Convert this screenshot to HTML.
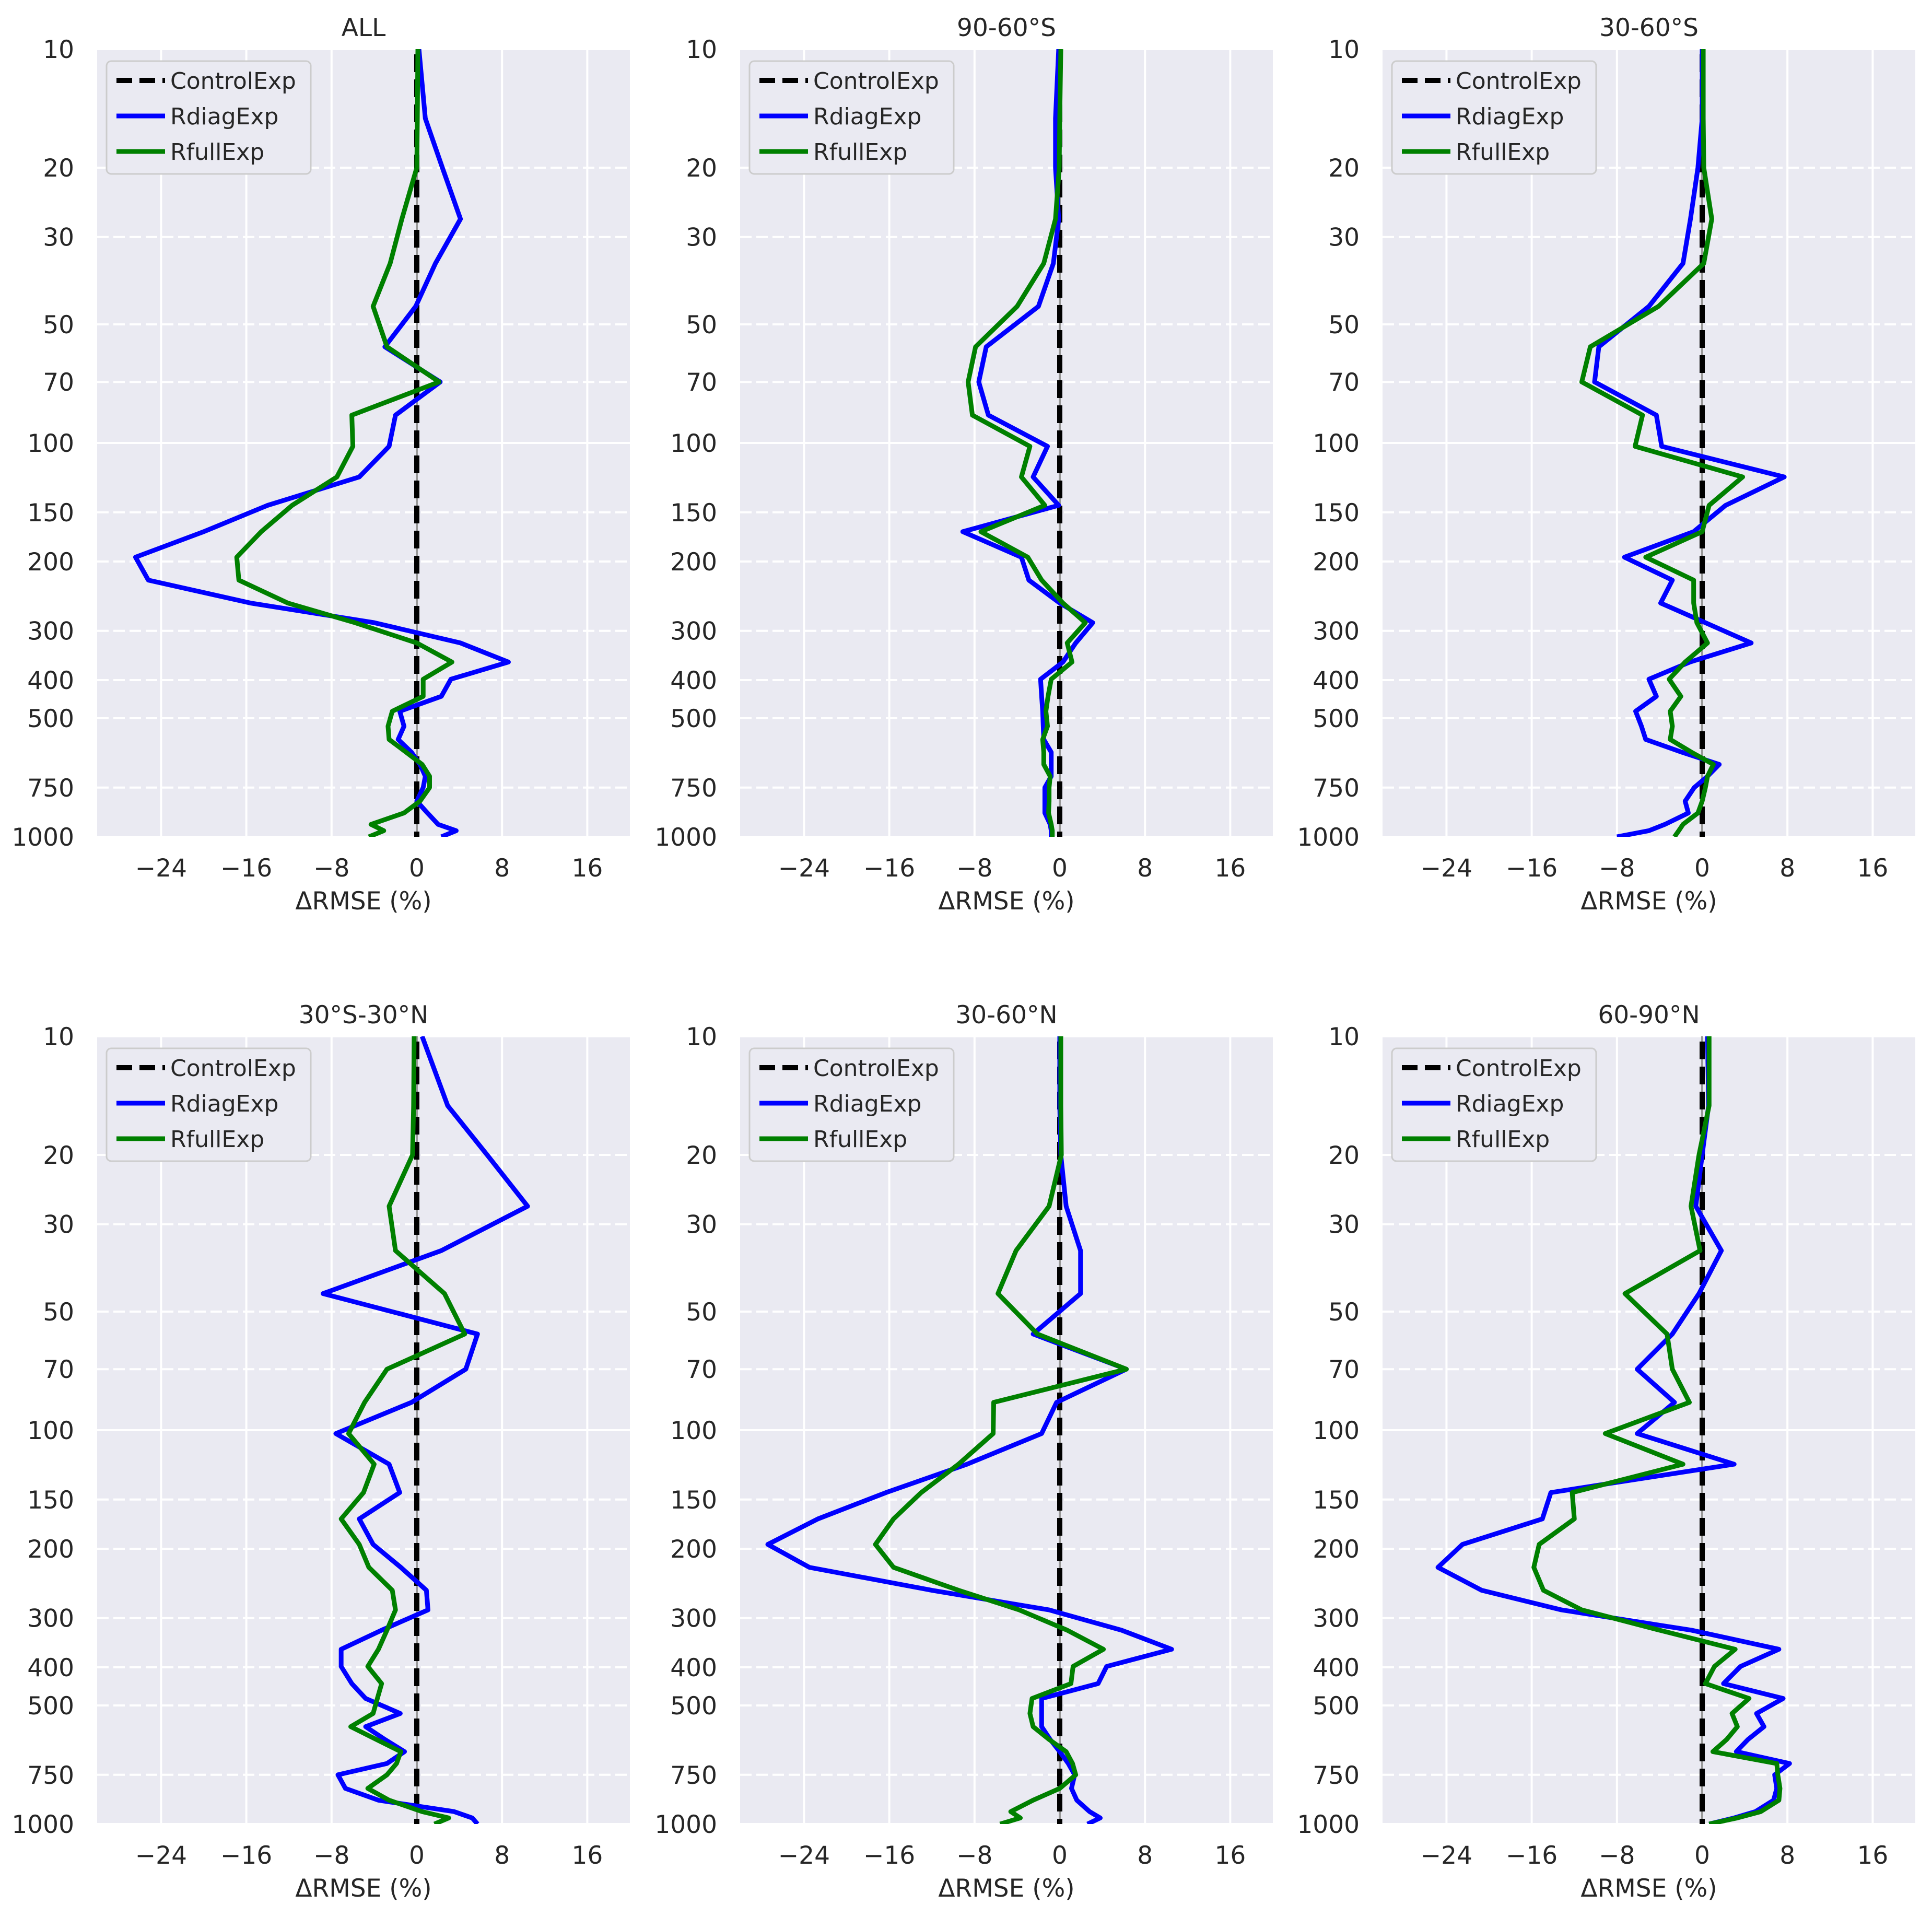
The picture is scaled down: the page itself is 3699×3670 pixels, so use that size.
<!DOCTYPE html>
<html><head><meta charset="utf-8"><style>
html,body{margin:0;padding:0;background:#fff;}
svg{display:block;font-family:"DejaVu Sans","Liberation Sans",sans-serif;}
</style></head><body>
<svg id="fig" xmlns="http://www.w3.org/2000/svg" width="3699" height="3670" viewBox="0 0 3699 3670"></svg>
<script>
const levels=[10,15,20,27,35,45,57,70,85,102,122,144,168,195,223,255,286,322,360,398,440,480,524,566,610,655,702,750,812,870,930,965,1000];
const titles=["ALL","90-60°S","30-60°S","30°S-30°N","30-60°N","60-90°N"];
const xTicks=[-24,-16,-8,0,8,16];
const yTicks=[10,20,30,50,70,100,150,200,300,400,500,750,1000];
const blueAll=[0.2,0.8,2.4,4.1,1.75,-0.1,-3.0,2.2,-2.0,-2.6,-5.4,-14,-20,-26.4,-25.2,-15.6,-4,4.1,8.6,3.2,2.3,-1.6,-1.2,-1.75,-0.5,0.3,0.8,0.6,0,1.0,2.0,3.7,2.3];
const greenAll=[0.1,0.05,0,-1.4,-2.5,-4.1,-2.8,2.1,-6.1,-6.0,-7.5,-11.7,-14.6,-16.9,-16.7,-12.1,-5.8,0,3.3,0.6,0.6,-2.3,-2.7,-2.6,-1,0.5,1.2,1.2,0.3,-1.2,-4.3,-3.1,-4.5];
const blueS90=[-0.1,-0.4,-0.4,-0.1,-0.6,-2.0,-6.9,-7.6,-6.7,-1.15,-2.5,-0.1,-9.1,-3.6,-2.9,0,3.1,1.5,0.3,-1.8,-1.7,-1.6,-1.55,-1.5,-0.8,-0.8,-0.8,-1.4,-1.4,-1.4,-0.9,-0.8,-0.8];
const greenS90=[0.1,0,-0.05,-0.4,-1.5,-4.0,-7.9,-8.6,-8.2,-2.8,-3.6,-1.4,-7.4,-3.0,-1.7,0.3,2.4,0.7,1.15,-0.8,-1.1,-1.3,-1.15,-1.6,-1.5,-1.5,-0.9,-1.0,-1.0,-1.05,-0.8,-0.7,-0.7];
const blueS60=[0,0,-0.4,-1.1,-1.8,-5.0,-9.7,-10.1,-4.3,-3.8,7.7,2.2,-0.8,-7.3,-2.8,-3.9,0.3,4.6,-1.15,-5.0,-4.3,-6.25,-5.7,-5.3,-1.9,1.6,0.5,-0.75,-1.6,-1.3,-3.5,-5,-8];
const greenS60=[0.1,0.1,0.15,0.9,0.15,-4.1,-10.5,-11.3,-5.6,-6.3,3.8,0.65,0,-5.3,-0.8,-0.8,-0.5,0.5,-1.6,-3.1,-2.0,-3.0,-2.8,-3.0,-1,1.05,0.5,0.3,0,-0.4,-1.8,-2.2,-2.6];
const blueTrop=[0.5,2.9,6.6,10.4,2.3,-8.8,5.7,4.6,-0.5,-7.6,-2.6,-1.6,-5.4,-4.1,-1.5,0.9,1.05,-3.3,-7.1,-7.1,-6.1,-4.8,-1.55,-4.8,-3.0,-1.15,-2.8,-7.4,-6.7,-3.6,3.5,5.2,5.7];
const greenTrop=[-0.25,-0.3,-0.4,-2.6,-2.0,2.6,4.5,-2.8,-4.9,-6.4,-4.0,-5.0,-7.1,-5.4,-4.5,-2.3,-2.0,-2.8,-3.6,-4.6,-3.3,-3.7,-4.1,-6.2,-3.8,-1.5,-1.9,-2.8,-4.6,-2.6,0.5,3.0,1.65];
const blueN60=[0,0,0.1,0.6,1.95,1.95,-2.5,6.25,-0.3,-1.7,-8.7,-16.3,-22.7,-27.4,-23.5,-12,-1.0,5.8,10.5,4.4,3.6,-1.7,-1.7,-1.7,-0.9,0,0.8,1.4,1.1,1.6,2.8,3.8,2.6];
const greenN60=[0.1,0.1,0.15,-1.0,-4.1,-5.8,-2.1,6.25,-6.2,-6.25,-9.5,-13,-15.6,-17.3,-15.6,-9.5,-3.8,0.7,4.1,1.25,1.05,-2.6,-2.8,-2.5,-1.0,0.6,1.2,1.5,0,-2.5,-4.6,-3.7,-5.6];
const blueN90=[0.5,0.6,0,-0.6,1.8,-0.3,-2.8,-6.1,-2.6,-6.1,3.0,-14.2,-15.0,-22.5,-24.8,-20.7,-13.2,-1,7.2,3.6,2.0,7.6,5.1,5.8,4.3,3.2,8.2,6.8,7.0,6.7,5.0,3.0,0.65];
const greenN90=[0.65,0.65,-0.3,-1.05,-0.2,-7.25,-3.3,-2.8,-1.2,-9.1,-1.8,-12.2,-12.0,-15.3,-15.8,-14.9,-11.3,-4,3.1,1.15,0.3,4.4,2.8,3.3,2.3,1.0,7.0,7.1,7.3,7.2,5.5,3.3,0.65];
const blues=[blueAll,blueS90,blueS60,blueTrop,blueN60,blueN90];
const greens=[greenAll,greenS90,greenS60,greenTrop,greenN60,greenN90];
const xMin=-30,xMax=20,pMin=10,pMax=1000;

const NS="http://www.w3.org/2000/svg";
const svg=document.getElementById('fig');
function mk(tag,attrs,parent){const e=document.createElementNS(NS,tag);for(const k in attrs)e.setAttribute(k,attrs[k]);(parent||svg).appendChild(e);return e;}
const lefts=[186,1417,2647],tops=[94,1984],W=1020,H=1508;
const defs=mk('defs',{});
const fmt=v=>v<0?'\u2212'+Math.abs(v):String(v);
const LW=9;

titles.forEach((t,i)=>{
  const L=lefts[i%3],T=tops[Math.floor(i/3)];
  const X=v=>L+(v-xMin)/(xMax-xMin)*W;
  const Y=p=>T+Math.log10(p/pMin)/Math.log10(pMax/pMin)*H;
  const g=mk('g',{});
  
  
  const cp=mk('clipPath',{id:'c'+i},defs);
  mk('rect',{x:L,y:T,width:W,height:H},cp);
  const bg=mk('rect',{x:L,y:T,width:W,height:H,fill:'#EAEAF2'},g);
  
  
  xTicks.forEach(v=>{
    const ln=mk('line',{x1:X(v),x2:X(v),y1:T,y2:T+H,stroke:'#fff','stroke-width':4},g);
    
    
    const tx=mk('text',{x:X(v),y:T+H+76,'text-anchor':'middle','font-size':47,fill:'#262626'},g);
    tx.textContent=fmt(v);
    
    
  });
  yTicks.forEach(p=>{
    const major=(p===10||p===100||p===1000);
    const ln=mk('line',{x1:L,x2:L+W,y1:Y(p),y2:Y(p),stroke:'#fff','stroke-width':4},g);
    if(!major)ln.setAttribute('stroke-dasharray','22 9');
    
    
    const tx=mk('text',{x:L-44,y:Y(p)+17,'text-anchor':'end','font-size':47,fill:'#262626'},g);
    tx.textContent=String(p);
    
    
  });
  const cg=mk('g',{'clip-path':'url(#c'+i+')'},g);
  const z=mk('line',{x1:X(0),x2:X(0),y1:T,y2:T+H,stroke:'#999','stroke-width':4},cg);
  
  
  const ctl=mk('line',{x1:X(0),x2:X(0),y1:T+10,y2:T+H,stroke:'#000','stroke-width':10,'stroke-dasharray':'34 14'},cg);
  
  
  const bp=mk('polyline',{points:blues[i].map((v,k)=>X(v)+','+Y(levels[k])).join(' '),fill:'none',stroke:'#0000FF','stroke-width':LW,'stroke-linejoin':'round'},cg);
  
  
  const gp=mk('polyline',{points:greens[i].map((v,k)=>X(v)+','+Y(levels[k])).join(' '),fill:'none',stroke:'#008000','stroke-width':LW,'stroke-linejoin':'round'},cg);
  
  
  const ti=mk('text',{x:L+W/2,y:T-25,'text-anchor':'middle','font-size':47,fill:'#262626'},g);
  ti.textContent=t;
  
  
  const xl=mk('text',{x:L+W/2,y:T+H+139,'text-anchor':'middle','font-size':47,fill:'#262626'},g);
  xl.textContent='ΔRMSE (%)';
  
  
  const lg=mk('g',{},g);
  
  
  mk('rect',{x:L+18,y:T+23,width:391,height:216,rx:9,fill:'#EAEAF2',stroke:'#CCCCCC','stroke-width':3},lg);
  const ent=[['ControlExp','#000','30 14'],['RdiagExp','#0000FF',null],['RfullExp','#008000',null]];
  ent.forEach((e,k)=>{
    const cy=T+60+k*68;
    const it=mk('g',{},lg);
    
    
    const l=mk('line',{x1:L+37,x2:L+130,y1:cy,y2:cy,stroke:e[1],'stroke-width':e[2]?10:LW},it);
    if(e[2])l.setAttribute('stroke-dasharray',e[2]);
    const tx=mk('text',{x:L+140,y:cy+16,'font-size':44,fill:'#262626'},it);
    tx.textContent=e[0];
  });
});
</script>
</body></html>
